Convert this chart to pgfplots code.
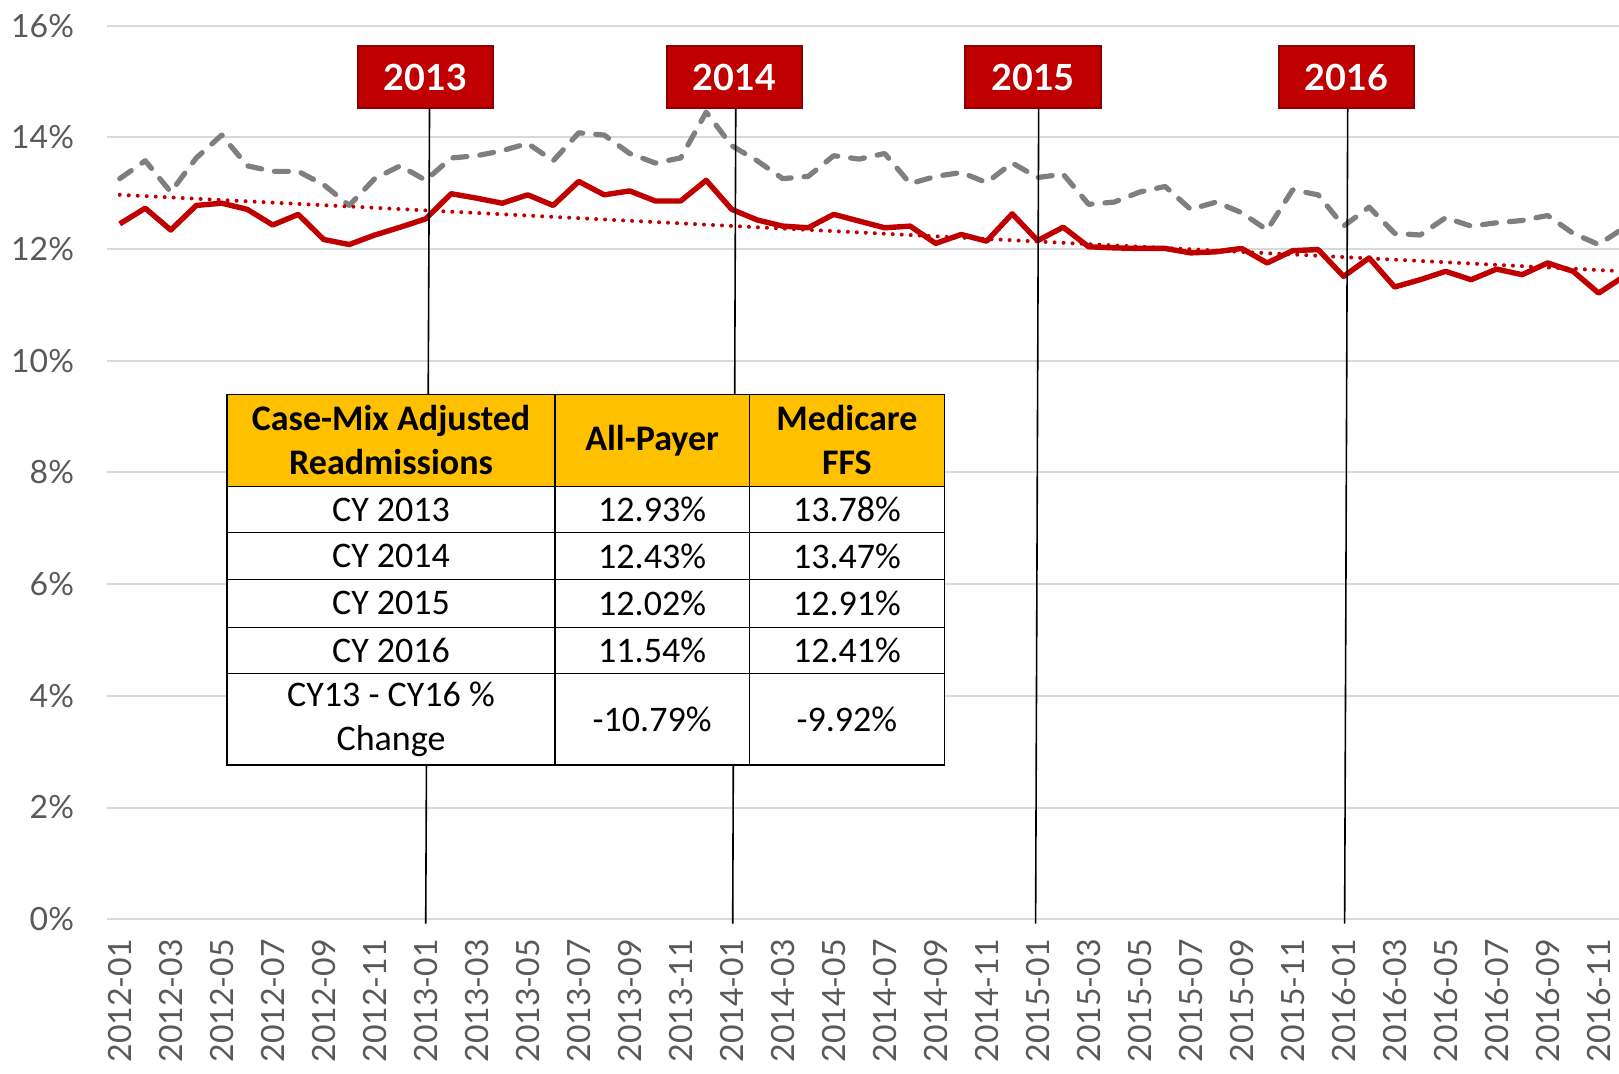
\documentclass[border=0pt]{standalone}
\usepackage{fontspec}
\setmainfont{Carlito}
\newfontfamily\latofont{Lato}
\usepackage{pgfplots}
\usepackage{pgfplotstable}
\pgfplotsset{compat=1.18}
\definecolor{ared}{HTML}{C00000}
\definecolor{mgray}{HTML}{7F7F7F}
\definecolor{gridc}{HTML}{D9D9D9}
\definecolor{tickc}{HTML}{595959}
\definecolor{gold}{HTML}{FFC000}
\definecolor{boxedge}{HTML}{8B0000}

\pgfplotstableread{
x ap mc
0 12.45 13.26
1 12.73 13.58
2 12.34 13.02
3 12.78 13.63
4 12.82 14.04
5 12.71 13.49
6 12.43 13.39
7 12.62 13.39
8 12.17 13.15
9 12.08 12.78
10 12.25 13.26
11 12.39 13.49
12 12.54 13.23
13 12.99 13.63
14 12.91 13.67
15 12.82 13.76
16 12.97 13.89
17 12.78 13.58
18 13.21 14.08
19 12.97 14.04
20 13.04 13.71
21 12.86 13.54
22 12.86 13.63
23 13.23 14.45
24 12.71 13.85
25 12.52 13.58
26 12.41 13.26
27 12.38 13.30
28 12.62 13.67
29 12.50 13.61
30 12.38 13.71
31 12.41 13.17
32 12.10 13.30
33 12.26 13.37
34 12.14 13.19
35 12.63 13.54
36 12.15 13.28
37 12.39 13.34
38 12.04 12.80
39 12.02 12.84
40 12.01 13.02
41 12.01 13.12
42 11.93 12.71
43 11.95 12.84
44 12.01 12.65
45 11.75 12.34
46 11.97 13.06
47 11.99 12.97
48 11.51 12.41
49 11.84 12.75
50 11.32 12.28
51 11.45 12.25
52 11.60 12.56
53 11.45 12.41
54 11.64 12.47
55 11.54 12.51
56 11.75 12.60
57 11.60 12.28
58 11.21 12.08
59 11.51 12.38
}\datatable

\begin{document}
\begin{tikzpicture}
\begin{axis}[
  at={(0pt,0pt)}, anchor=south west,
  scale only axis, width=756pt, height=446.8pt,
  xmin=-0.5, xmax=58.8, ymin=0, ymax=16,
  axis line style={draw=none},
  tick style={draw=none},
  ymajorgrids, grid style={gridc, line width=1pt},
  ytick={0,2,...,16},
  yticklabels={0\%,2\%,4\%,6\%,8\%,10\%,12\%,14\%,16\%},
  xtick={0,2,...,58},
  xticklabels={2012-01,2012-03,2012-05,2012-07,2012-09,2012-11,
               2013-01,2013-03,2013-05,2013-07,2013-09,2013-11,
               2014-01,2014-03,2014-05,2014-07,2014-09,2014-11,
               2015-01,2015-03,2015-05,2015-07,2015-09,2015-11,
               2016-01,2016-03,2016-05,2016-07,2016-09,2016-11},
  xticklabel style={yshift=-6.5pt, rotate=90, anchor=east, font=\latofont\fontsize{16}{16}\selectfont, text=tickc},
  yticklabel style={anchor=east, font=\latofont\fontsize{16}{16}\selectfont, text=tickc, xshift=-13pt},
  clip mode=individual,
]
\addplot[mgray, line width=2.6pt, line cap=round, line join=round, dash pattern=on 7pt off 6.5pt] table[x=x, y=mc] {\datatable};
\addplot[ared, line width=2.7pt, line join=round] table[x=x, y=ap] {\datatable};
\addplot[ared, line width=2pt, line cap=round, dash pattern=on 0pt off 4.5pt] coordinates {(0,12.97) (59,11.60)};

% callout lines
\draw[black, line width=0.8pt] (axis cs:12.15,14.52) -- (axis cs:12.0,-0.08);
\draw[black, line width=0.8pt] (axis cs:24.16,14.52) -- (axis cs:24.04,-0.08);
\draw[black, line width=0.8pt] (axis cs:36.04,14.52) -- (axis cs:35.92,-0.08);
\draw[black, line width=0.8pt] (axis cs:48.16,14.52) -- (axis cs:48.04,-0.08);

% year boxes
\node[fill=ared, draw=boxedge, line width=1pt, minimum width=67.6pt, minimum height=31pt, inner sep=0pt, text=white, font=\latofont\bfseries\fontsize{18}{18}\selectfont] at (axis cs:11.98,15.075) {2013};
\node[fill=ared, draw=boxedge, line width=1pt, minimum width=67.6pt, minimum height=31pt, inner sep=0pt, text=white, font=\latofont\bfseries\fontsize{18}{18}\selectfont] at (axis cs:24.12,15.075) {2014};
\node[fill=ared, draw=boxedge, line width=1pt, minimum width=67.6pt, minimum height=31pt, inner sep=0pt, text=white, font=\latofont\bfseries\fontsize{18}{18}\selectfont] at (axis cs:35.82,15.075) {2015};
\node[fill=ared, draw=boxedge, line width=1pt, minimum width=67.6pt, minimum height=31pt, inner sep=0pt, text=white, font=\latofont\bfseries\fontsize{18}{18}\selectfont] at (axis cs:48.10,15.075) {2016};

% table
\fill[gold] (axis cs:4.21,9.40) rectangle (axis cs:32.35,7.75);
\fill[white] (axis cs:4.21,7.75) rectangle (axis cs:32.35,2.76);
\draw[black, line width=0.6pt] (axis cs:4.21,9.40) rectangle (axis cs:32.35,2.76);
\draw[black, line width=0.6pt] (axis cs:4.21,7.75) -- (axis cs:32.35,7.75);
\draw[black, line width=0.6pt] (axis cs:4.21,6.92) -- (axis cs:32.35,6.92);
\draw[black, line width=0.6pt] (axis cs:4.21,6.08) -- (axis cs:32.35,6.08);
\draw[black, line width=0.6pt] (axis cs:4.21,5.23) -- (axis cs:32.35,5.23);
\draw[black, line width=0.6pt] (axis cs:4.21,4.40) -- (axis cs:32.35,4.40);
\draw[black, line width=0.6pt] (axis cs:17.07,9.40) -- (axis cs:17.07,2.76);
\draw[black, line width=0.6pt] (axis cs:24.69,9.40) -- (axis cs:24.69,2.76);

\node[align=center, inner sep=0pt, font=\bfseries\fontsize{18}{22}\selectfont] at (axis cs:10.64,8.575) {Case-Mix Adjusted\\Readmissions};
\node[align=center, inner sep=0pt, font=\bfseries\fontsize{18}{22}\selectfont] at (axis cs:20.88,8.575) {All-Payer};
\node[align=center, inner sep=0pt, font=\bfseries\fontsize{18}{22}\selectfont] at (axis cs:28.52,8.575) {Medicare\\FFS};

\node[align=center, inner sep=0pt, font=\fontsize{18}{22}\selectfont] at (axis cs:10.64,7.335) {CY 2013};
\node[align=center, inner sep=0pt, font=\fontsize{18}{22}\selectfont] at (axis cs:20.88,7.335) {12.93\%};
\node[align=center, inner sep=0pt, font=\fontsize{18}{22}\selectfont] at (axis cs:28.52,7.335) {13.78\%};
\node[align=center, inner sep=0pt, font=\fontsize{18}{22}\selectfont] at (axis cs:10.64,6.50) {CY 2014};
\node[align=center, inner sep=0pt, font=\fontsize{18}{22}\selectfont] at (axis cs:20.88,6.50) {12.43\%};
\node[align=center, inner sep=0pt, font=\fontsize{18}{22}\selectfont] at (axis cs:28.52,6.50) {13.47\%};
\node[align=center, inner sep=0pt, font=\fontsize{18}{22}\selectfont] at (axis cs:10.64,5.655) {CY 2015};
\node[align=center, inner sep=0pt, font=\fontsize{18}{22}\selectfont] at (axis cs:20.88,5.655) {12.02\%};
\node[align=center, inner sep=0pt, font=\fontsize{18}{22}\selectfont] at (axis cs:28.52,5.655) {12.91\%};
\node[align=center, inner sep=0pt, font=\fontsize{18}{22}\selectfont] at (axis cs:10.64,4.815) {CY 2016};
\node[align=center, inner sep=0pt, font=\fontsize{18}{22}\selectfont] at (axis cs:20.88,4.815) {11.54\%};
\node[align=center, inner sep=0pt, font=\fontsize{18}{22}\selectfont] at (axis cs:28.52,4.815) {12.41\%};
\node[align=center, inner sep=0pt, font=\fontsize{18}{22}\selectfont] at (axis cs:10.64,3.58) {CY13 - CY16 \%\\Change};
\node[align=center, inner sep=0pt, font=\fontsize{18}{22}\selectfont] at (axis cs:20.88,3.58) {-10.79\%};
\node[align=center, inner sep=0pt, font=\fontsize{18}{22}\selectfont] at (axis cs:28.52,3.58) {-9.92\%};
\end{axis}
\pgfresetboundingbox
\path[use as bounding box] (-53.5pt,-76.9pt) rectangle (756pt,459.6pt);
\end{tikzpicture}
\end{document}
